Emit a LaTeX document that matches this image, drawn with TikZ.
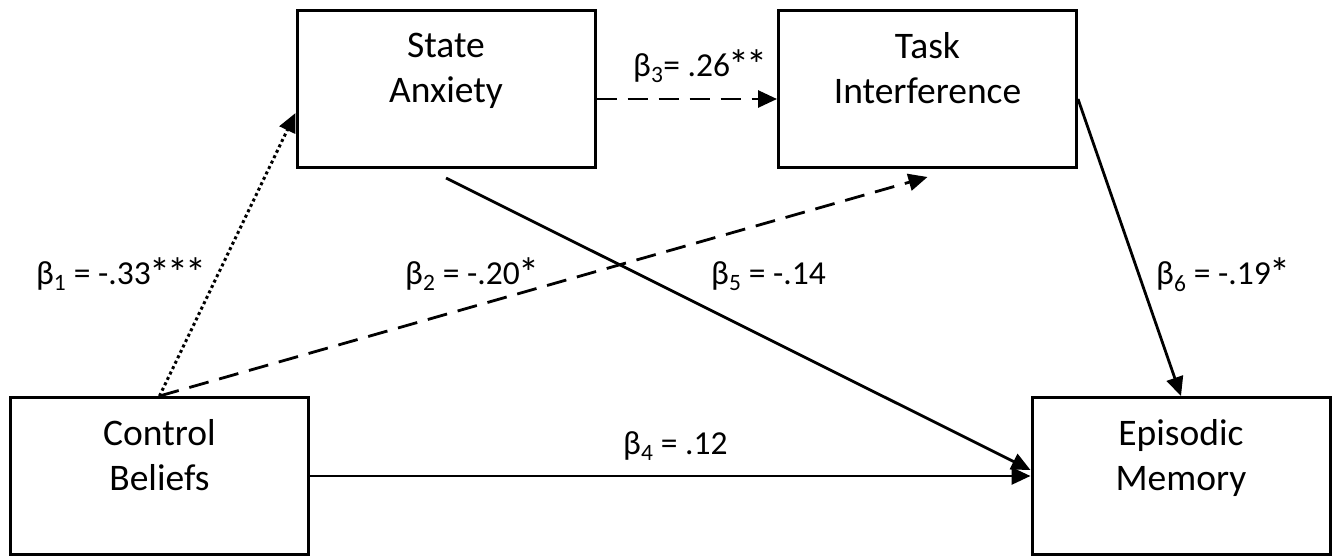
\documentclass[tikz,border=0pt]{standalone}
\usepackage{fontspec}
\setmainfont{Carlito}
\usetikzlibrary{arrows.meta}
\newcommand\mystar{\kern-1.5pt\raisebox{-3pt}{\fontsize{42}{42}\selectfont *}\kern-1.5pt}
\begin{document}
\begin{tikzpicture}[x=1pt,y=-1pt,
  boxstyle/.style={draw, line width=3pt, minimum width=298pt, minimum height=157pt,
    align=center, inner sep=0pt, font=\fontsize{37.5}{45}\selectfont},
  link/.style={line width=2.8pt, -{Triangle[length=19pt,width=17pt]}},
  dashlink/.style={link, dash pattern=on 20pt off 11pt},
  dotlink/.style={link, line width=3pt, dash pattern=on 3pt off 3pt},
  lab/.style={inner sep=0pt, anchor=base west, font=\fontsize{33.5}{40}\selectfont}]
\useasboundingbox (0,0) rectangle (1336,555);
\node[boxstyle] (sa) at (446,89) {State\\Anxiety\\[-16pt]\strut};
\node[boxstyle] (ti) at (927.5,89) {Task\\Interference\\[-16pt]\strut};
\node[boxstyle] (cb) at (159.5,476) {Control\\Beliefs\\[-16pt]\strut};
\node[boxstyle] (em) at (1181,476) {Episodic\\Memory\\[-16pt]\strut};
% connectors
\draw[dotlink] (cb.north) -- ([yshift=-24pt]sa.west);
\draw[dashlink] (cb.north) -- ([yshift=-8pt]ti.south);
\draw[dashlink] ([yshift=-10pt]sa.east) -- ([yshift=-10pt]ti.west);
\draw[link] (cb.east) -- (em.west);
\draw[link] ([yshift=-9pt]sa.south) -- ([yshift=6pt]em.west);
\draw[link] ([yshift=-10pt]ti.east) -- (em.north);
% labels
\node[lab] (l1) at (36,284) {β\textsubscript{1} = -.33\mystar\mystar\mystar};
\node[lab] (l2) at (405,284) {β\textsubscript{2} = -.20\mystar};
\node[lab] (l3) at (633,76) {β\textsubscript{3}= .26\mystar\mystar};
\node[lab] (l4) at (623,454) {β\textsubscript{4} = .12};
\node[lab] (l5) at (711,284) {β\textsubscript{5} = -.14};
\node[lab] (l6) at (1156,284) {β\textsubscript{6} = -.19\mystar};
\end{tikzpicture}
\end{document}
